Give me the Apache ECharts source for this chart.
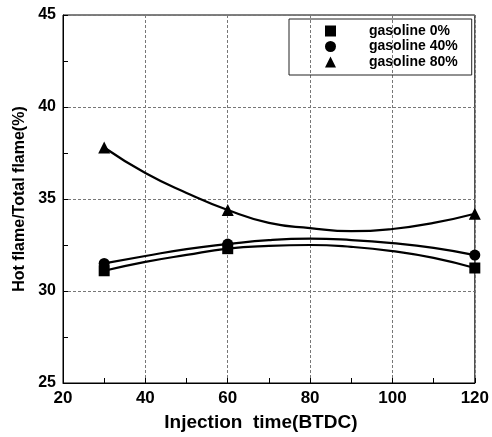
<!DOCTYPE html>
<html>
<head>
<meta charset="utf-8">
<script src="https://cdn.jsdelivr.net/npm/echarts@6/dist/echarts.min.js"></script>
<style>html,body{margin:0;padding:0;background:#fff}#c{width:492px;height:437px}</style>
</head>
<body>
<div id="c"></div>
<script>
// Measured points
const xPoints = [30, 60, 120];
const gas0 = [31.1, 32.3, 31.25];
const gas40 = [31.5, 32.55, 31.95];
const gas80 = [37.8, 34.4, 34.2];
// Fitted curves
const curveX = [30, 40, 50, 60, 70, 80, 90, 100, 110, 120];
const curve0 = [31.1, 31.58, 31.96, 32.3, 32.45, 32.5, 32.4, 32.17, 31.8, 31.25];
const curve40 = [31.5, 31.9, 32.28, 32.55, 32.77, 32.85, 32.77, 32.6, 32.34, 31.95];
const curve80 = [37.8, 36.41, 35.33, 34.4, 33.7, 33.42, 33.25, 33.37, 33.7, 34.2];
const names = ['gasoline 0%', 'gasoline 40%', 'gasoline 80%'];
const xTicks = [20, 40, 60, 80, 100, 120];
const yTicks = [25, 30, 35, 40, 45];

const zip = (xs, ys) => xs.map((x, i) => [x, ys[i]]);
const font = 'Liberation Sans, Arial, sans-serif';
const chart = echarts.init(document.getElementById('c'));
const curveStyle = { type: 'line', smooth: 0.5, showSymbol: false, symbol: 'none', lineStyle: { color: '#000', width: 2.2 }, silent: true, z: 2 };
chart.setOption({
  animation: false,
  backgroundColor: '#fff',
  grid: { left: 63, top: 15, right: 15, bottom: 54, show: true, borderColor: '#000', borderWidth: 1 },
  legend: {
    left: 289, top: 19, width: 176,
    orient: 'vertical',
    data: names,
    borderColor: '#222', borderWidth: 1,
    padding: [5, 14, 6, 36],
    itemWidth: 11, itemHeight: 11, itemGap: 1.5,
    textStyle: { fontFamily: font, fontWeight: 'bold', fontSize: 14, color: '#000', padding: [0, 0, 0, 28], lineHeight: 14 }
  },
  xAxis: {
    type: 'value', min: 20, max: 120, interval: 20,
    name: 'Injection  time(BTDC)', nameLocation: 'middle', nameGap: 30,
    nameTextStyle: { fontFamily: font, fontWeight: 'bold', fontSize: 19, color: '#000', padding: [0, 16, 0, 0] },
    axisLine: { lineStyle: { color: '#000', width: 1 } },
    axisTick: { show: true, inside: true, length: 5, lineStyle: { color: '#000' } },
    minorTick: { show: true, splitNumber: 2, length: 5, lineStyle: { color: '#000' } },
    axisLabel: { fontFamily: font, fontWeight: 'bold', fontSize: 17, color: '#000', margin: 7, formatter: v => xTicks.includes(v) ? String(v) : '' },
    splitLine: { show: true, lineStyle: { color: '#777', type: [3, 2], width: 1 } }
  },
  yAxis: {
    type: 'value', min: 25, max: 45, interval: 5,
    name: 'Hot flame/Total flame(%)', nameLocation: 'middle', nameGap: 35,
    nameTextStyle: { fontFamily: font, fontWeight: 'bold', fontSize: 16, color: '#000' },
    axisLine: { lineStyle: { color: '#000', width: 1 } },
    axisTick: { show: true, inside: true, length: 5, lineStyle: { color: '#000' } },
    minorTick: { show: true, splitNumber: 2, length: 5, lineStyle: { color: '#000' } },
    axisLabel: { fontFamily: font, fontWeight: 'bold', fontSize: 16, color: '#000', margin: 7, formatter: v => yTicks.includes(v) ? String(v) : '' },
    splitLine: { show: true, lineStyle: { color: '#777', type: [3, 2], width: 1 } }
  },
  series: [
    Object.assign({ name: 'c0', data: zip(curveX, curve0) }, curveStyle),
    Object.assign({ name: 'c40', data: zip(curveX, curve40) }, curveStyle),
    Object.assign({ name: 'c80', data: zip(curveX, curve80) }, curveStyle),
    { name: names[0], type: 'scatter', symbol: 'rect', symbolSize: 11, data: zip(xPoints, gas0), itemStyle: { color: '#000', opacity: 1 }, z: 3 },
    { name: names[1], type: 'scatter', symbol: 'circle', symbolSize: 11, data: zip(xPoints, gas40), itemStyle: { color: '#000', opacity: 1 }, z: 3 },
    { name: names[2], type: 'scatter', symbol: 'triangle', symbolSize: 12, data: zip(xPoints, gas80), itemStyle: { color: '#000', opacity: 1 }, z: 3 }
  ]
});
</script>
</body>
</html>
